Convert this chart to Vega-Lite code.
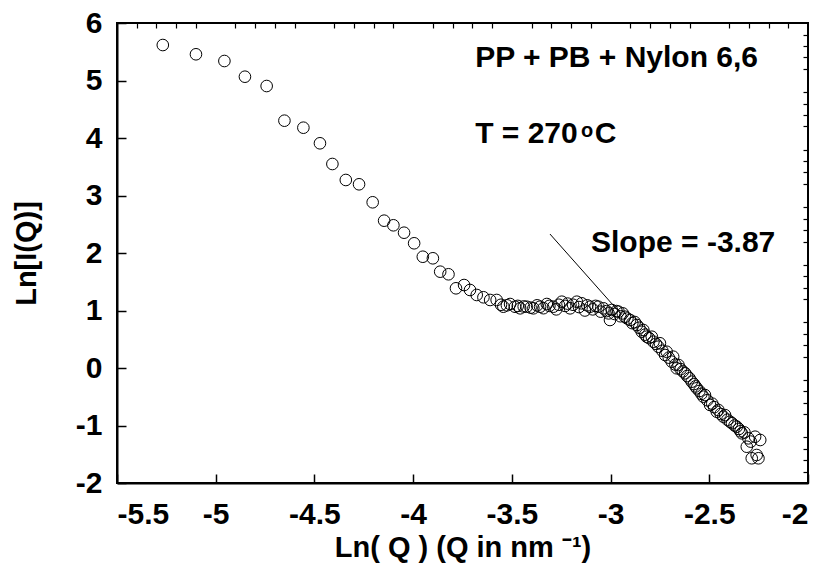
{
  "$schema": "https://vega.github.io/schema/vega-lite/v6.json",
  "width": 691,
  "height": 460,
  "autosize": {"type": "none"},
  "padding": {"left": 117, "top": 23, "right": 15, "bottom": 87},
  "background": "white",
  "config": {
    "view": {"stroke": "black", "strokeWidth": 2},
    "font": "Liberation Sans"
  },
  "datasets": {
    "pts": [
      {"lnq": -5.268, "lni": 5.617}, {"lnq": -5.100, "lni": 5.456}, {"lnq": -4.956, "lni": 5.339}, {"lnq": -4.852, "lni": 5.066},
      {"lnq": -4.742, "lni": 4.904}, {"lnq": -4.652, "lni": 4.301}, {"lnq": -4.556, "lni": 4.179}, {"lnq": -4.472, "lni": 3.908},
      {"lnq": -4.409, "lni": 3.548}, {"lnq": -4.341, "lni": 3.270}, {"lnq": -4.274, "lni": 3.195}, {"lnq": -4.205, "lni": 2.882},
      {"lnq": -4.147, "lni": 2.562}, {"lnq": -4.100, "lni": 2.482}, {"lnq": -4.046, "lni": 2.353}, {"lnq": -3.995, "lni": 2.169},
      {"lnq": -3.951, "lni": 1.935}, {"lnq": -3.900, "lni": 1.908}, {"lnq": -3.863, "lni": 1.675}, {"lnq": -3.821, "lni": 1.630},
      {"lnq": -3.783, "lni": 1.386}, {"lnq": -3.742, "lni": 1.443}, {"lnq": -3.712, "lni": 1.357}, {"lnq": -3.678, "lni": 1.270},
      {"lnq": -3.644, "lni": 1.230}, {"lnq": -3.610, "lni": 1.183}, {"lnq": -3.577, "lni": 1.183}, {"lnq": -3.555, "lni": 1.10},
      {"lnq": -3.543, "lni": 1.066}, {"lnq": -3.525, "lni": 1.09}, {"lnq": -3.509, "lni": 1.113}, {"lnq": -3.484, "lni": 1.066},
      {"lnq": -3.470, "lni": 1.08}, {"lnq": -3.458, "lni": 1.038}, {"lnq": -3.440, "lni": 1.07}, {"lnq": -3.425, "lni": 1.066},
      {"lnq": -3.405, "lni": 1.05}, {"lnq": -3.391, "lni": 1.038}, {"lnq": -3.372, "lni": 1.09}, {"lnq": -3.357, "lni": 1.066},
      {"lnq": -3.340, "lni": 1.04}, {"lnq": -3.323, "lni": 1.113}, {"lnq": -3.310, "lni": 1.08}, {"lnq": -3.290, "lni": 1.066},
      {"lnq": -3.275, "lni": 1.02}, {"lnq": -3.262, "lni": 1.10}, {"lnq": -3.247, "lni": 1.153}, {"lnq": -3.230, "lni": 1.08},
      {"lnq": -3.218, "lni": 1.12}, {"lnq": -3.205, "lni": 1.038}, {"lnq": -3.190, "lni": 1.10}, {"lnq": -3.171, "lni": 1.153},
      {"lnq": -3.160, "lni": 1.06}, {"lnq": -3.146, "lni": 1.125}, {"lnq": -3.130, "lni": 1.00}, {"lnq": -3.118, "lni": 1.09},
      {"lnq": -3.104, "lni": 1.066}, {"lnq": -3.090, "lni": 1.02}, {"lnq": -3.076, "lni": 1.08}, {"lnq": -3.062, "lni": 1.066},
      {"lnq": -3.050, "lni": 0.98}, {"lnq": -3.036, "lni": 1.038}, {"lnq": -3.020, "lni": 0.99}, {"lnq": -3.010, "lni": 0.95},
      {"lnq": -3.003, "lni": 0.835}, {"lnq": -2.994, "lni": 1.009}, {"lnq": -2.980, "lni": 0.94}, {"lnq": -2.970, "lni": 0.99},
      {"lnq": -2.960, "lni": 0.979}, {"lnq": -2.950, "lni": 0.90}, {"lnq": -2.938, "lni": 0.95}, {"lnq": -2.927, "lni": 0.892},
      {"lnq": -2.915, "lni": 0.86}, {"lnq": -2.901, "lni": 0.835}, {"lnq": -2.890, "lni": 0.78}, {"lnq": -2.878, "lni": 0.80},
      {"lnq": -2.867, "lni": 0.748}, {"lnq": -2.855, "lni": 0.70}, {"lnq": -2.842, "lni": 0.631}, {"lnq": -2.834, "lni": 0.661},
      {"lnq": -2.825, "lni": 0.58}, {"lnq": -2.817, "lni": 0.544}, {"lnq": -2.805, "lni": 0.52}, {"lnq": -2.791, "lni": 0.544},
      {"lnq": -2.783, "lni": 0.457}, {"lnq": -2.770, "lni": 0.42}, {"lnq": -2.758, "lni": 0.370}, {"lnq": -2.750, "lni": 0.43},
      {"lnq": -2.738, "lni": 0.30}, {"lnq": -2.724, "lni": 0.226}, {"lnq": -2.716, "lni": 0.283}, {"lnq": -2.705, "lni": 0.18},
      {"lnq": -2.690, "lni": 0.110}, {"lnq": -2.683, "lni": 0.197}, {"lnq": -2.672, "lni": 0.06}, {"lnq": -2.665, "lni": -0.005},
      {"lnq": -2.656, "lni": 0.052}, {"lnq": -2.645, "lni": -0.02}, {"lnq": -2.634, "lni": -0.06}, {"lnq": -2.622, "lni": -0.092},
      {"lnq": -2.612, "lni": -0.14}, {"lnq": -2.600, "lni": -0.18}, {"lnq": -2.589, "lni": -0.238}, {"lnq": -2.578, "lni": -0.28},
      {"lnq": -2.570, "lni": -0.32}, {"lnq": -2.563, "lni": -0.353}, {"lnq": -2.550, "lni": -0.40}, {"lnq": -2.540, "lni": -0.45},
      {"lnq": -2.530, "lni": -0.499}, {"lnq": -2.522, "lni": -0.47}, {"lnq": -2.510, "lni": -0.56}, {"lnq": -2.496, "lni": -0.643},
      {"lnq": -2.485, "lni": -0.62}, {"lnq": -2.475, "lni": -0.68}, {"lnq": -2.462, "lni": -0.760}, {"lnq": -2.454, "lni": -0.730},
      {"lnq": -2.442, "lni": -0.80}, {"lnq": -2.429, "lni": -0.847}, {"lnq": -2.420, "lni": -0.82}, {"lnq": -2.408, "lni": -0.90},
      {"lnq": -2.395, "lni": -0.934}, {"lnq": -2.385, "lni": -0.96}, {"lnq": -2.372, "lni": -1.00}, {"lnq": -2.361, "lni": -1.021},
      {"lnq": -2.350, "lni": -1.06}, {"lnq": -2.342, "lni": -1.10}, {"lnq": -2.335, "lni": -1.136}, {"lnq": -2.322, "lni": -1.12},
      {"lnq": -2.310, "lni": -1.369}, {"lnq": -2.302, "lni": -1.223}, {"lnq": -2.290, "lni": -1.28}, {"lnq": -2.285, "lni": -1.570},
      {"lnq": -2.268, "lni": -1.195}, {"lnq": -2.260, "lni": -1.513}, {"lnq": -2.251, "lni": -1.570}, {"lnq": -2.242, "lni": -1.252}
    ],
    "fit": [{"x1": -3.307, "y1": 2.33, "x2": -2.95, "y2": 0.95}],
    "notes": [
      {"x": -3.686, "y": 5.235, "label": "PP + PB + Nylon 6,6"},
      {"x": -3.686, "y": 3.913, "label": "T = 270"},
      {"x": -3.080, "y": 3.913, "label": "C"},
      {"x": -3.099, "y": 2.017, "label": "Slope = -3.87"}
    ],
    "sup": [{"x": -3.150, "y": 4.017, "label": "o"}]
  },
  "layer": [
    {
      "data": {"name": "pts"},
      "mark": {"type": "point", "shape": "circle", "filled": false, "stroke": "black", "strokeWidth": 1, "size": 135, "opacity": 1},
      "encoding": {
        "x": {
          "field": "lnq", "type": "quantitative",
          "scale": {"domain": [-5.5, -2], "nice": false, "zero": false},
          "axis": {
            "values": [-5.5, -5, -4.5, -4, -3.5, -3, -2.5, -2],
            "labelExpr": "toString(datum.value)",
            "grid": false, "domainColor": "black", "domainWidth": 2,
            "tickColor": "black", "tickWidth": 1.5, "tickSize": -9,
            "labelPadding": 25, "labelFontSize": 30, "labelFontWeight": "bold", "labelColor": "black",
            "labelFont": "Liberation Sans", "labelBaseline": "top",
            "title": "Ln( Q )  (Q in nm ⁻¹)", "titleFontSize": 29, "titleFontWeight": "bold", "titleColor": "black",
            "titleFont": "Liberation Sans", "titlePadding": 4
          }
        },
        "y": {
          "field": "lni", "type": "quantitative",
          "scale": {"domain": [-2, 6], "nice": false, "zero": false},
          "axis": {
            "values": [-2, -1, 0, 1, 2, 3, 4, 5, 6],
            "labelExpr": "toString(datum.value)",
            "grid": false, "domainColor": "black", "domainWidth": 2,
            "tickColor": "black", "tickWidth": 1.5, "tickSize": -9,
            "labelPadding": 24, "labelFontSize": 30, "labelFontWeight": "bold", "labelColor": "black",
            "labelFont": "Liberation Sans",
            "title": "Ln[I(Q)]", "titleFontSize": 29, "titleFontWeight": "bold", "titleColor": "black",
            "titleFont": "Liberation Sans", "titlePadding": 34
          }
        }
      }
    },
    {
      "data": {"name": "pts"},
      "mark": {"type": "point", "opacity": 0},
      "encoding": {
        "x": {
          "field": "lnq", "type": "quantitative",
          "scale": {"domain": [-5.5, -2], "nice": false, "zero": false},
          "axis": {
            "values": [-5.4, -5.3, -5.2, -5.1, -4.9, -4.8, -4.7, -4.6, -4.4, -4.3, -4.2, -4.1, -3.9, -3.8, -3.7, -3.6, -3.4, -3.3, -3.2, -3.1, -2.9, -2.8, -2.7, -2.6, -2.4, -2.3, -2.2, -2.1],
            "labels": false, "domain": false, "grid": false, "title": null,
            "tickColor": "black", "tickWidth": 1.2, "tickSize": -5
          }
        },
        "y": {
          "field": "lni", "type": "quantitative",
          "scale": {"domain": [-2, 6], "nice": false, "zero": false},
          "axis": {
            "values": [-1.8, -1.6, -1.4, -1.2, -0.8, -0.6, -0.4, -0.2, 0.2, 0.4, 0.6, 0.8, 1.2, 1.4, 1.6, 1.8, 2.2, 2.4, 2.6, 2.8, 3.2, 3.4, 3.6, 3.8, 4.2, 4.4, 4.6, 4.8, 5.2, 5.4, 5.6, 5.8],
            "labels": false, "domain": false, "grid": false, "title": null,
            "tickColor": "black", "tickWidth": 1.2, "tickSize": -5
          }
        }
      }
    },
    {
      "data": {"name": "fit"},
      "mark": {"type": "rule", "stroke": "black", "strokeWidth": 1},
      "encoding": {
        "x": {"field": "x1", "type": "quantitative", "scale": {"domain": [-5.5, -2], "nice": false, "zero": false}, "axis": null},
        "y": {"field": "y1", "type": "quantitative", "scale": {"domain": [-2, 6], "nice": false, "zero": false}, "axis": null},
        "x2": {"field": "x2"},
        "y2": {"field": "y2"}
      }
    },
    {
      "data": {"name": "notes"},
      "mark": {"type": "text", "align": "left", "baseline": "alphabetic", "fontSize": 30, "fontWeight": "bold", "font": "Liberation Sans", "color": "black"},
      "encoding": {
        "x": {"field": "x", "type": "quantitative", "scale": {"domain": [-5.5, -2], "nice": false, "zero": false}, "axis": null},
        "y": {"field": "y", "type": "quantitative", "scale": {"domain": [-2, 6], "nice": false, "zero": false}, "axis": null},
        "text": {"field": "label"}
      }
    },
    {
      "data": {"name": "sup"},
      "mark": {"type": "text", "align": "left", "baseline": "alphabetic", "fontSize": 20, "fontWeight": "bold", "font": "Liberation Sans", "color": "black"},
      "encoding": {
        "x": {"field": "x", "type": "quantitative", "scale": {"domain": [-5.5, -2], "nice": false, "zero": false}, "axis": null},
        "y": {"field": "y", "type": "quantitative", "scale": {"domain": [-2, 6], "nice": false, "zero": false}, "axis": null},
        "text": {"field": "label"}
      }
    }
  ],
  "resolve": {"axis": {"x": "independent", "y": "independent"}}
}
